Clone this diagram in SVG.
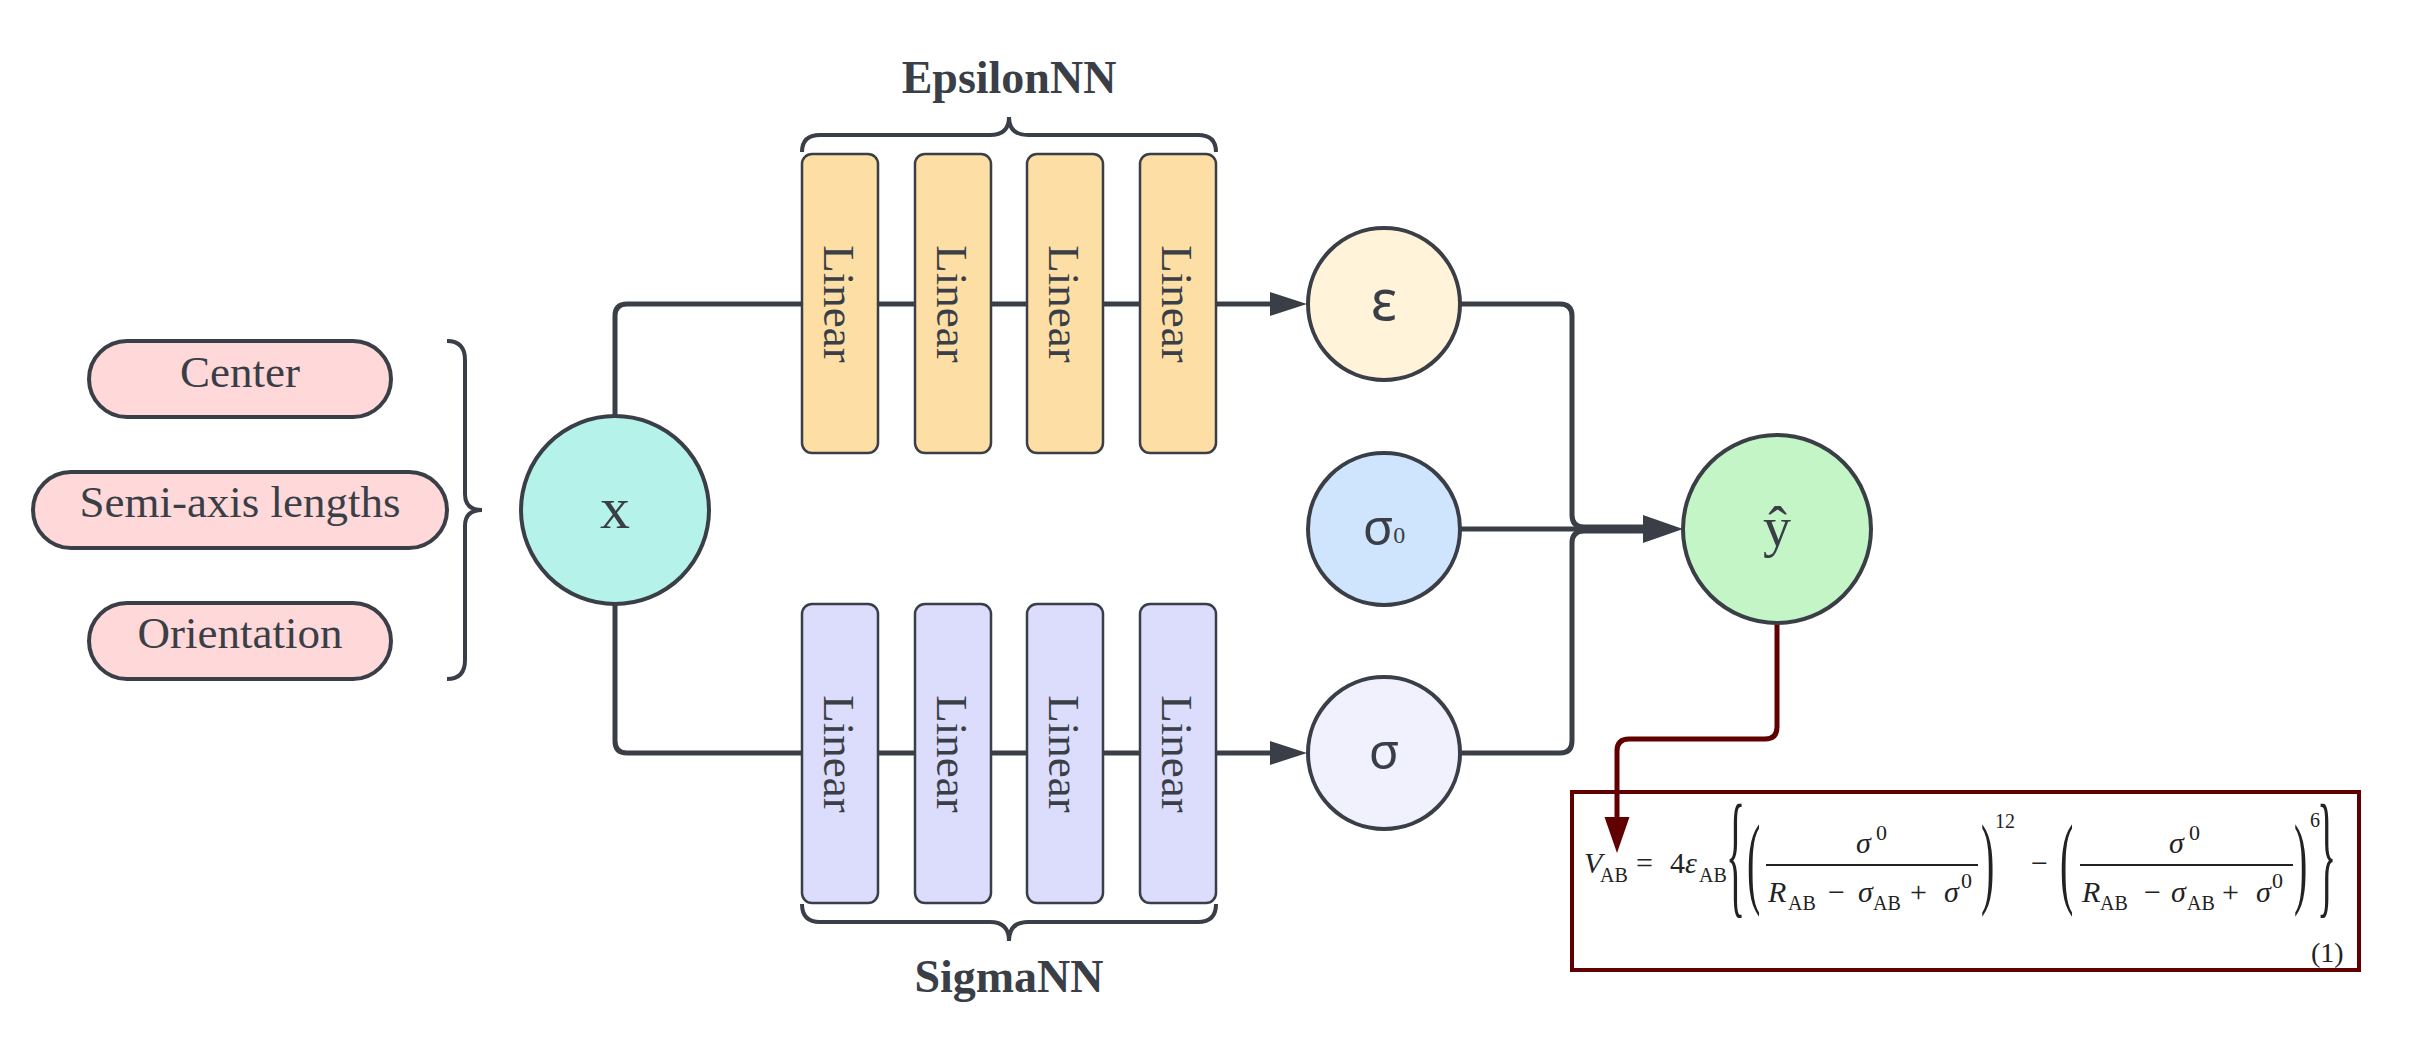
<svg xmlns="http://www.w3.org/2000/svg" width="2409" height="1058" viewBox="0 0 2409 1058">
<style>
.pill{fill:#ffd9d9;stroke:#3a3f47;stroke-width:4}
.lin{stroke:#3a3f47;stroke-width:2.5}
.lo{fill:#fddea5}
.lp{fill:#dcddfd}
.circ{stroke:#3a3f47;stroke-width:4}
.conn{fill:none;stroke:#3a3f47;stroke-width:5}
.red{fill:none;stroke:#600000;stroke-width:5}
.brace{fill:none;stroke:#3a3f47;stroke-width:4}
.lbl{font-family:"Liberation Serif",serif;font-size:45px;fill:#3a3f47;text-anchor:middle}
.title{font-family:"Liberation Serif",serif;font-size:46px;font-weight:bold;fill:#3a3f47;text-anchor:middle}
.gk{font-family:"Noto Sans","DejaVu Sans",sans-serif;fill:#3a3f47;text-anchor:middle}
.m{font-family:"Liberation Serif",serif;font-size:30px;fill:#222}
.mi{font-family:"Liberation Serif",serif;font-size:30px;font-style:italic;fill:#222}
.ms{font-family:"Liberation Serif",serif;font-size:20px;fill:#222}
.big{font-family:"Liberation Serif",serif;font-size:40px;fill:#222}
</style>
<defs>
<marker id="ah" markerUnits="userSpaceOnUse" markerWidth="40" markerHeight="30" viewBox="0 -15 40 30" refX="0" refY="0" orient="auto"><path d="M0,-12 L37,0 L0,12 z" fill="#3a3f47"/></marker>
<marker id="ahb" markerUnits="userSpaceOnUse" markerWidth="44" markerHeight="32" viewBox="0 -16 44 32" refX="0" refY="0" orient="auto"><path d="M0,-14 L40,0 L0,14 z" fill="#3a3f47"/></marker>
<marker id="ahr" markerUnits="userSpaceOnUse" markerWidth="40" markerHeight="30" viewBox="0 -15 40 30" refX="0" refY="0" orient="auto"><path d="M0,-12.5 L36,0 L0,12.5 z" fill="#600000"/></marker>
</defs>
<rect width="2409" height="1058" fill="#ffffff"/>

<g id="formula">
<rect x="1572" y="792" width="787" height="178" fill="#ffffff" stroke="#600000" stroke-width="4"/>
<text class="mi" x="1584" y="873">V</text><text class="ms" x="1600" y="882">AB</text>
<text class="m" x="1636" y="873">=</text>
<text class="m" x="1670" y="873">4</text>
<text class="mi" x="1685" y="873">ε</text><text class="ms" x="1699" y="882">AB</text>
<text class="big" transform="translate(1726,900) scale(1,3.42)">{</text>
<text class="big" transform="translate(1747,895) scale(1,2.52)">(</text>
<line x1="1766" y1="865" x2="1978" y2="865" stroke="#222" stroke-width="2"/>
<text class="mi" x="1856" y="853">σ</text><text class="ms" x="1876" y="840" style="font-size:22px">0</text>
<text class="mi" x="1768" y="902">R</text><text class="ms" x="1788" y="910">AB</text>
<text class="m" x="1828" y="902">−</text>
<text class="mi" x="1858" y="902">σ</text><text class="ms" x="1873" y="910">AB</text>
<text class="m" x="1910" y="902">+</text>
<text class="mi" x="1944" y="902">σ</text><text class="ms" x="1961" y="888" style="font-size:22px">0</text>
<text class="big" transform="translate(1981,895) scale(1,2.52)">)</text>
<text class="ms" x="1995" y="828">12</text>
<text class="m" x="2031" y="873">−</text>
<text class="big" transform="translate(2060,895) scale(1,2.52)">(</text>
<line x1="2080" y1="865" x2="2293" y2="865" stroke="#222" stroke-width="2"/>
<text class="mi" x="2169" y="853">σ</text><text class="ms" x="2189" y="840" style="font-size:22px">0</text>
<text class="mi" x="2082" y="902">R</text><text class="ms" x="2100" y="910">AB</text>
<text class="m" x="2144" y="902">−</text>
<text class="mi" x="2171" y="902">σ</text><text class="ms" x="2187" y="910">AB</text>
<text class="m" x="2222" y="902">+</text>
<text class="mi" x="2256" y="902">σ</text><text class="ms" x="2272" y="888" style="font-size:22px">0</text>
<text class="big" transform="translate(2294,895) scale(1,2.52)">)</text>
<text class="ms" x="2310" y="827">6</text>
<text class="big" transform="translate(2317,900) scale(1,3.42)">}</text>
<text class="m" x="2311" y="962" style="font-size:28px">(1)</text>
</g>

<g id="connectors">
<path class="conn" d="M615,416 L615,316 Q615,304 627,304 L1270,304" marker-end="url(#ah)"/>
<path class="conn" d="M615,604 L615,741 Q615,753 627,753 L1270,753" marker-end="url(#ah)"/>
<path class="conn" d="M1460,304 L1560,304 Q1572,304 1572,316 L1572,515 Q1572,527 1584,527 L1643,527"/>
<path class="conn" d="M1460,753 L1560,753 Q1572,753 1572,741 L1572,543 Q1572,531 1584,531 L1643,531"/>
<path class="conn" d="M1460,529 L1643,529" marker-end="url(#ahb)"/>
<path class="red" d="M1777,623 L1777,727 Q1777,739 1765,739 L1629,739 Q1617,739 1617,751 L1617,817" marker-end="url(#ahr)"/>
</g>

<g id="brace-inputs"><path class="brace" d="M447,341 Q465,341 465,360 L465,494 Q465,510 482,510 Q465,510 465,526 L465,660 Q465,679 447,679"/></g>

<g id="center"><rect class="pill" x="89" y="341" width="302" height="76" rx="38"/><text class="lbl" x="240" y="387">Center</text></g>
<g id="semi-axis"><rect class="pill" x="33" y="472" width="414" height="76" rx="38"/><text class="lbl" x="240" y="517">Semi-axis lengths</text></g>
<g id="orientation"><rect class="pill" x="89" y="603" width="302" height="76" rx="38"/><text class="lbl" x="240" y="648">Orientation</text></g>

<g id="x"><circle class="circ" cx="615" cy="510" r="94" fill="#b5f3ea"/><text class="lbl" x="615" y="528" style="font-size:60px">x</text></g>

<g id="epsilonnn-label">
<path class="brace" d="M802,152 Q802,135 820,135 L990,135 Q1009,135 1009,117 Q1009,135 1028,135 L1198,135 Q1216,135 1216,152"/>
<text class="title" x="1009" y="93">EpsilonNN</text>
</g>
<g id="eps-linear1"><rect class="lin lo" x="802" y="154" width="76" height="299" rx="10"/><text class="lbl" transform="translate(840,304) rotate(90)" x="0" y="16">Linear</text></g>
<g id="eps-linear2"><rect class="lin lo" x="915" y="154" width="76" height="299" rx="10"/><text class="lbl" transform="translate(953,304) rotate(90)" x="0" y="16">Linear</text></g>
<g id="eps-linear3"><rect class="lin lo" x="1027" y="154" width="76" height="299" rx="10"/><text class="lbl" transform="translate(1065,304) rotate(90)" x="0" y="16">Linear</text></g>
<g id="eps-linear4"><rect class="lin lo" x="1140" y="154" width="76" height="299" rx="10"/><text class="lbl" transform="translate(1178,304) rotate(90)" x="0" y="16">Linear</text></g>

<g id="sig-linear1"><rect class="lin lp" x="802" y="604" width="76" height="299" rx="10"/><text class="lbl" transform="translate(840,754) rotate(90)" x="0" y="16">Linear</text></g>
<g id="sig-linear2"><rect class="lin lp" x="915" y="604" width="76" height="299" rx="10"/><text class="lbl" transform="translate(953,754) rotate(90)" x="0" y="16">Linear</text></g>
<g id="sig-linear3"><rect class="lin lp" x="1027" y="604" width="76" height="299" rx="10"/><text class="lbl" transform="translate(1065,754) rotate(90)" x="0" y="16">Linear</text></g>
<g id="sig-linear4"><rect class="lin lp" x="1140" y="604" width="76" height="299" rx="10"/><text class="lbl" transform="translate(1178,754) rotate(90)" x="0" y="16">Linear</text></g>
<g id="sigmann-label">
<path class="brace" d="M802,904 Q802,922 820,922 L990,922 Q1009,922 1009,941 Q1009,922 1028,922 L1198,922 Q1216,922 1216,904"/>
<text class="title" x="1009" y="992">SigmaNN</text>
</g>

<g id="epsilon"><circle class="circ" cx="1384" cy="304" r="76" fill="#fff3da"/><text class="gk" x="1384" y="320" style="font-size:56px">ε</text></g>
<g id="sigma0"><circle class="circ" cx="1384" cy="529" r="76" fill="#cfe4fd"/><text class="gk" x="1384" y="545" style="font-size:50px">σ<tspan style="font-family:'Liberation Serif',serif;font-size:24px" dy="-2">0</tspan></text></g>
<g id="sigma"><circle class="circ" cx="1384" cy="753" r="76" fill="#f0f1fd"/><text class="gk" x="1384" y="769" style="font-size:50px">σ</text></g>
<g id="yhat"><circle class="circ" cx="1777" cy="529" r="94" fill="#c3f5c6"/><text class="lbl" x="1777" y="546" style="font-size:56px">ŷ</text></g>
</svg>
